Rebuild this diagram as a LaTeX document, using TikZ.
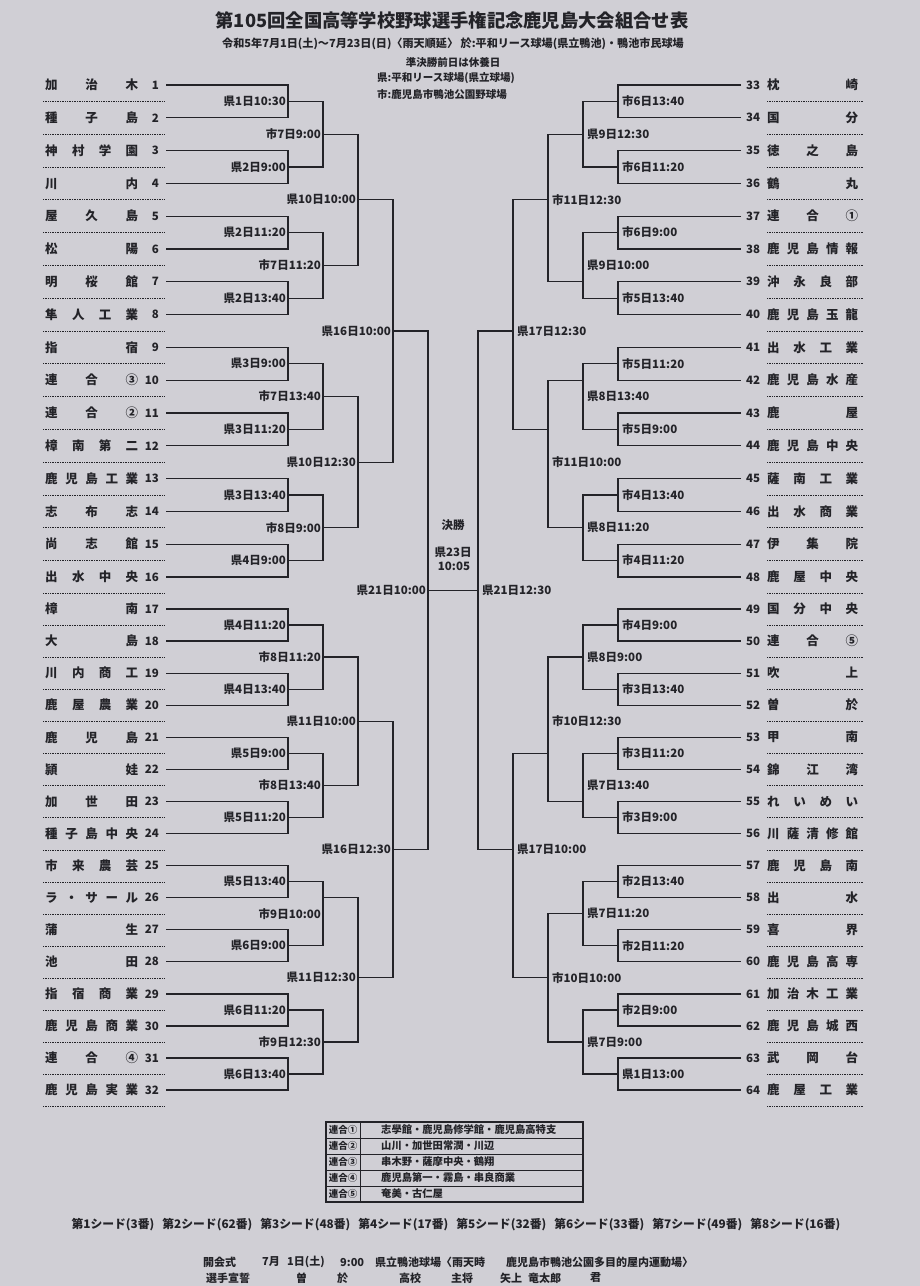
\documentclass[tikz,border=0pt]{standalone}
\usepackage{fontspec}
\setmainfont{Noto Sans CJK JP}
\usetikzlibrary{calc}
\definecolor{paper}{RGB}{208,207,213}
\definecolor{ink}{RGB}{35,35,40}

\tikzset{
    bracket/.style={ink, line width=1.3pt},
    seprule/.style={ink, line width=0.8pt, dash pattern=on 1pt off 0.7pt},
    teamname/.style={ink, anchor=west, inner sep=0pt, font=\bfseries\fontsize{12.5}{14}\selectfont},
    teamno/.style={ink, inner sep=0pt, font=\bfseries\fontsize{11.5}{13}\selectfont},
    Llab/.style={ink, anchor=east, inner sep=0pt, xshift=-2pt, font=\bfseries\fontsize{11.5}{13}\selectfont},
    Rlab/.style={ink, anchor=west, inner sep=0pt, xshift=4pt, font=\bfseries\fontsize{11.5}{13}\selectfont},
    hdr/.style={ink, inner sep=0pt, font=\bfseries\fontsize{10.5}{12}\selectfont},
    foot/.style={ink, inner sep=0pt, anchor=west, font=\bfseries\fontsize{11}{13}\selectfont},
    tblline/.style={ink, line width=0.7pt},
}

% one round of one half: side, round, x of the vertical, label/offset list
\newcommand\bracketround[4]{%
    \pgfmathtruncatemacro\prv{#2-1}
    \foreach \lab/\dy [count=\k] in {#4}{
        \pgfmathtruncatemacro\ca{2*\k-1}
        \pgfmathtruncatemacro\cb{2*\k}
        \path let \p1=($(#1-\prv-\ca)!0.5!(#1-\prv-\cb)$) in
            coordinate (#1-#2-\k) at (#3pt,\y1);
        \coordinate (#1o-#2-\k) at ($(#1-#2-\k)+(0,\dy)$);
        \draw[bracket] (#1o-\prv-\ca) -| (#1o-#2-\k) |- (#1o-\prv-\cb);
        \node[#1lab] (#1lb-#2-\k) at (#1-#2-\k) {\ignorespaces\lab};
    }
}

\begin{document}
\begin{tikzpicture}[x=1pt, y=-1pt]
    \useasboundingbox (0,0) rectangle (920,1286);
    \fill[paper] (0,0) rectangle (920,1286);

    % --- heading ---
    \node[ink, font=\bfseries\fontsize{18.3}{20}\selectfont] (title) at (452,21)
        {第105回全国高等学校野球選手権記念鹿児島大会組合せ表};
    \node[hdr, font=\bfseries\fontsize{11.1}{12}\selectfont] (period) at (453,44)
        {令和5年7月1日(土)～7月23日(日)〈雨天順延〉 於:平和リース球場(県立鴨池)・鴨池市民球場};
    \node[hdr] (rest) at (453,62) {準決勝前日は休養日};
    \node[hdr, anchor=west] (venueK) at (377,78) {県:平和リース球場(県立球場)};
    \node[hdr, anchor=west] (venueS) at (377,95) {市:鹿児島市鴨池公園野球場};

    % --- left teams ---
    \foreach \nm [count=\i] in {加 治 木, 種 子 島, 神 村 学 園, 川 内, 屋 久 島, 松 陽,
        明 桜 館, 隼 人 工 業, 指 宿, 連 合 ③, 連 合 ②, 樟 南 第 二, 鹿 児 島 工 業,
        志 布 志, 尚 志 館, 出 水 中 央, 樟 南, 大 島, 川 内 商 工, 鹿 屋 農 業,
        鹿 児 島, 頴 娃, 加 世 田, 種 子 島 中 央, 市 来 農 芸, ラ ・ サ ー ル,
        蒲 生, 池 田, 指 宿 商 業, 鹿 児 島 商 業, 連 合 ④, 鹿 児 島 実 業}{
        \pgfmathsetmacro\ty{ifthenelse(\i<17, 85+(\i-1)*32.8, 609+(\i-17)*32.07)}
        \node[teamname] (Lnm-\i) at (45,\ty) {\makebox[93pt][s]{\ignorespaces\nm\unskip}};
        \node[teamno, anchor=east] (Lno-\i) at (159,\ty) {\i};
        \coordinate (L-0-\i) at (166,\ty);
        \coordinate (Lo-0-\i) at (L-0-\i);
        \draw[seprule] (43,\ty+16.4) -- (165,\ty+16.4);
    }

    % --- right teams ---
    \foreach \nm [count=\i] in {枕 崎, 国 分, 徳 之 島, 鶴 丸, 連 合 ①, 鹿 児 島 情 報,
        沖 永 良 部, 鹿 児 島 玉 龍, 出 水 工 業, 鹿 児 島 水 産, 鹿 屋, 鹿 児 島 中 央,
        薩 南 工 業, 出 水 商 業, 伊 集 院, 鹿 屋 中 央, 国 分 中 央, 連 合 ⑤, 吹 上,
        曽 於, 甲 南, 錦 江 湾, れ い め い, 川 薩 清 修 館, 鹿 児 島 南, 出 水, 喜 界,
        鹿 児 島 高 専, 加 治 木 工 業, 鹿 児 島 城 西, 武 岡 台, 鹿 屋 工 業}{
        \pgfmathsetmacro\ty{ifthenelse(\i<17, 85+(\i-1)*32.8, 609+(\i-17)*32.07)}
        \pgfmathtruncatemacro\no{\i+32}
        \node[teamno, anchor=west] (Rno-\i) at (746,\ty) {\no};
        \node[teamname] (Rnm-\i) at (767,\ty) {\makebox[91pt][s]{\ignorespaces\nm\unskip}};
        \coordinate (R-0-\i) at (741,\ty);
        \coordinate (Ro-0-\i) at (R-0-\i);
        \draw[seprule] (767,\ty+16.4) -- (863,\ty+16.4);
    }

    % --- left brackets ---
    \bracketround{L}{1}{288}{県1日10:30/0, 県2日9:00/0, 県2日11:20/0, 県2日13:40/0,
        県3日9:00/0, 県3日11:20/0, 県3日13:40/0, 県4日9:00/0, 県4日11:20/0, 県4日13:40/0,
        県5日9:00/0, 県5日11:20/0, 県5日13:40/0, 県6日9:00/0, 県6日11:20/0, 県6日13:40/0}
    \bracketround{L}{2}{323}{市7日9:00/0, 市7日11:20/0, 市7日13:40/0, 市8日9:00/0,
        市8日11:20/0, 市8日13:40/0, 市9日10:00/-16, 市9日12:30/0}
    \bracketround{L}{3}{358}{県10日10:00/0, 県10日12:30/0, 県11日10:00/0, 県11日12:30/0}
    \bracketround{L}{4}{393}{県16日10:00/0, 県16日12:30/0}
    \bracketround{L}{5}{428}{県21日10:00/0}

    % --- right brackets ---
    \bracketround{R}{1}{618}{市6日13:40/0, 市6日11:20/0, 市6日9:00/0, 市5日13:40/0,
        市5日11:20/0, 市5日9:00/0, 市4日13:40/0, 市4日11:20/0, 市4日9:00/0, 市3日13:40/0,
        市3日11:20/0, 市3日9:00/0, 市2日13:40/0, 市2日11:20/0, 市2日9:00/0, 県1日13:00/0}
    \bracketround{R}{2}{583}{県9日12:30/0, 県9日10:00/16, 県8日13:40/-16, 県8日11:20/0,
        県8日9:00/0, 県7日13:40/16, 県7日11:20/0, 県7日9:00/0}
    \bracketround{R}{3}{548}{市11日12:30/0, 市11日10:00/-33, 市10日12:30/32, 市10日10:00/0}
    \bracketround{R}{4}{513}{県17日12:30/0, 県17日10:00/0}
    \bracketround{R}{5}{478}{県21日12:30/0}

    % --- final ---
    \draw[bracket] (Lo-5-1) -- (Ro-5-1);
    \node[teamno] (final) at (453,525) {決勝};
    \node[teamno] (finalday) at (453,552) {県23日};
    \node[teamno] (finaltime) at (454,566) {10:05};

    % --- combined teams table ---
    \draw[ink, line width=1.6pt] (326,1122) rectangle (583,1202);
    \foreach \i in {1,...,4}
        \draw[tblline] (326,1122+16*\i) -- (583,1122+16*\i);
    \draw[tblline] (360,1122) -- (360,1202);
    \foreach \k/\mem [count=\i] in {①/志學館・鹿児島修学館・鹿児島高特支, ②/山川・加世田常潤・川辺,
        ③/串木野・薩摩中央・鶴翔, ④/鹿児島第一・霧島・串良商業, ⑤/奄美・古仁屋}{
        \node[hdr, font=\bfseries\fontsize{9.5}{11}\selectfont] (ren-\i) at (343,1114+16*\i) {連合\k};
        \node[hdr, anchor=west, font=\bfseries\fontsize{10.3}{12}\selectfont] (mem-\i) at (381,1114+16*\i) {\mem};
    }

    % --- seeds and ceremony ---
    \node[hdr, font=\bfseries\fontsize{11.8}{13}\selectfont] (seeds) at (456,1225)
        {第1シード(3番)\hspace{8pt}第2シード(62番)\hspace{8pt}第3シード(48番)\hspace{8pt}第4シード(17番)\hspace{8pt}第5シード(32番)\hspace{8pt}第6シード(33番)\hspace{8pt}第7シード(49番)\hspace{8pt}第8シード(16番)};
    \node[foot] (open) at (203,1262) {開会式};
    \node[foot] (openday) at (262,1262) {7月};
    \node[foot] (openday2) at (287,1262) {1日(土)};
    \node[foot] (opentime) at (340,1262) {9:00};
    \node[foot] (openplace) at (375,1262) {県立鴨池球場〈雨天時};
    \node[foot] (rainplace) at (506,1262) {鹿児島市鴨池公園多目的屋内運動場〉};
    \node[foot] (oath) at (206,1278) {選手宣誓};
    \node[foot] (oath1) at (296,1278) {曽};
    \node[foot] (oath2) at (337,1278) {於};
    \node[foot] (oath3) at (399,1278) {高校};
    \node[foot] (oath4) at (451,1278) {主将};
    \node[foot] (oath5) at (500,1278) {矢上};
    \node[foot] (oath6) at (528,1278) {竜太郎};
    \node[foot] (oath7) at (590,1278) {君};
\end{tikzpicture}
\end{document}
